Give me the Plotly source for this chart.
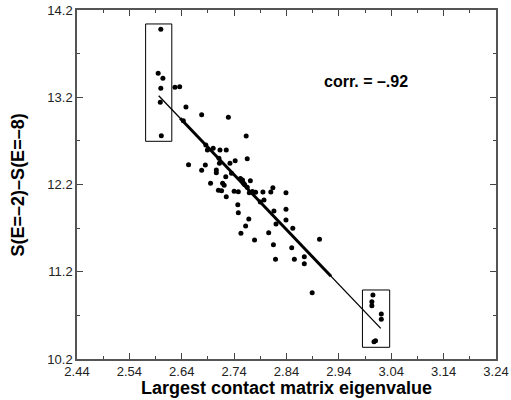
import numpy as np
import plotly.graph_objects as go

# ---- data ----
eig = [2.600, 2.595, 2.604, 2.600, 2.599, 2.601, 2.627, 2.636, 2.648, 2.643,
       2.678, 2.729, 2.763, 2.686, 2.689, 2.700, 2.713, 2.725, 2.653, 2.685,
       2.678, 2.706, 2.706, 2.711, 2.712, 2.732, 2.742, 2.765, 2.724, 2.695,
       2.718, 2.721, 2.710, 2.716, 2.725, 2.740, 2.748, 2.747, 2.748, 2.756,
       2.758, 2.771, 2.765, 2.769, 2.781, 2.795, 2.810, 2.814, 2.839, 2.797,
       2.816, 2.839, 2.839, 2.820, 2.768, 2.762, 2.753, 2.806, 2.852, 2.779,
       2.815, 2.850, 2.903, 2.819, 2.855, 2.874, 2.874, 2.889,
       2.752, 2.760, 2.775, 2.790, 2.735,
       3.005, 3.003, 3.003, 3.021, 3.021, 3.007, 3.010]
dS = [13.978, 13.474, 13.417, 13.302, 13.142, 12.760, 13.314, 13.321, 13.088, 12.932,
      13.000, 12.970, 12.756, 12.653, 12.595, 12.615, 12.595, 12.595, 12.427, 12.423,
      12.362, 12.366, 12.336, 12.500, 12.443, 12.443, 12.473, 12.496, 12.290, 12.213,
      12.213, 12.190, 12.133, 12.129, 12.061, 12.122, 12.118, 11.969, 11.877, 12.252,
      12.213, 12.244, 12.168, 12.106, 12.110, 12.114, 12.114, 12.164, 12.106, 12.022,
      11.896, 11.915, 11.793, 11.747, 11.805, 11.724, 11.640, 11.648, 11.698, 11.564,
      11.510, 11.476, 11.572, 11.342, 11.342, 11.373, 11.293, 10.960,
      12.270, 12.200, 12.120, 12.000, 12.330,
      10.934, 10.857, 10.811, 10.716, 10.655, 10.399, 10.410]

fit_x = [2.596, 3.020]
fit_y = [13.218, 10.551]
thick_x = [2.637, 2.925]

box_low = dict(x0=2.571, x1=2.621, y0=12.695, y1=14.04)
box_high = dict(x0=2.985, x1=3.037, y0=10.334, y1=10.991)

corr_text = "corr. = \u2013.92"
corr_pos = (2.992, 13.386)
x_title = "Largest contact matrix eigenvalue"
y_title = "S(E=\u20132)\u2013S(E=\u20138)"

FONT = "Liberation Sans, Arial, sans-serif"

fig = go.Figure()
fig.add_trace(go.Scatter(x=fit_x, y=fit_y, mode="lines",
                         line=dict(color="black", width=1.3), hoverinfo="skip"))
fig.add_trace(go.Scatter(x=thick_x, y=list(np.interp(thick_x, fit_x, fit_y)),
                         mode="lines", line=dict(color="black", width=3), hoverinfo="skip"))
fig.add_trace(go.Scatter(x=eig, y=dS, mode="markers",
                         marker=dict(color="black", size=5)))

for b in (box_low, box_high):
    fig.add_shape(type="rect", xref="x", yref="y", line=dict(color="black", width=1),
                  fillcolor="rgba(0,0,0,0)", **b)

fig.add_annotation(x=corr_pos[0], y=corr_pos[1], text=corr_text, showarrow=False,
                   font=dict(family=FONT, size=16, color="black", weight="bold"))
fig.add_annotation(xref="paper", yref="paper", x=0.5, y=-0.083, yanchor="middle",
                   text=x_title, showarrow=False,
                   font=dict(family=FONT, size=18, color="black", weight="bold"))
fig.add_annotation(xref="paper", yref="paper", x=-0.141, y=0.5, xanchor="center",
                   yanchor="middle", textangle=-90, text=y_title, showarrow=False,
                   font=dict(family=FONT, size=18, color="black", weight="bold"))

axis_common = dict(showgrid=False, zeroline=False, showline=True, linecolor="#555",
                   linewidth=1.5, mirror="allticks", ticks="inside", ticklen=6,
                   tickwidth=1, tickcolor="#444", automargin=False,
                   tickfont=dict(family=FONT, size=13, color="#222"))

fig.update_xaxes(range=[2.44, 3.24], tick0=2.44, dtick=0.1, tickformat=".2f",
                 minor=dict(tick0=2.44, dtick=0.05, ticks="inside", ticklen=3, tickcolor="#444"),
                 **axis_common)
fig.update_yaxes(range=[10.2, 14.2], tick0=10.2, dtick=1, tickformat=".1f",
                 minor=dict(tick0=10.2, dtick=0.5, ticks="inside", ticklen=3, tickcolor="#444"),
                 **axis_common)

fig.update_layout(width=511, height=400, margin=dict(l=77, r=15, t=10, b=41),
                  plot_bgcolor="white", paper_bgcolor="white", showlegend=False)

fig.write_html("out.html", config={"displayModeBar": False},
               post_script="document.body.style.margin='0';document.body.style.overflow='hidden';")
